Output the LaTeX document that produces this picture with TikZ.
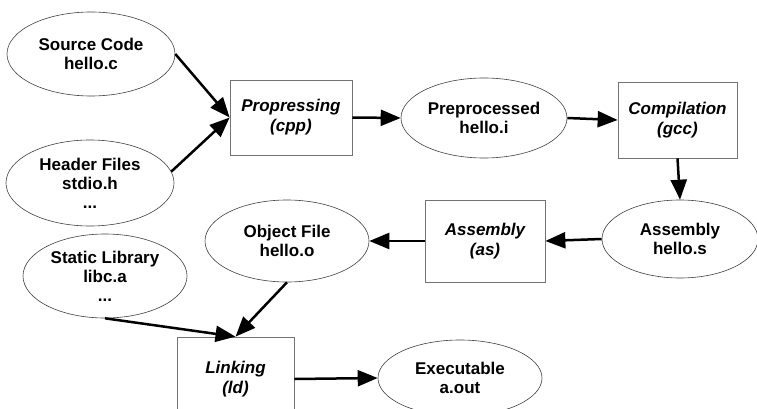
\documentclass[tikz,border=0pt]{standalone}
\usepackage{fontspec}
\setmainfont{Liberation Sans}
\usetikzlibrary{shapes.geometric,arrows.meta}
\begin{document}
\begin{tikzpicture}[x=1pt,y=-1pt,
	file/.style={ellipse,draw=black!75,line width=0.6pt,inner sep=0pt,align=center,font=\fontsize{17}{19}\selectfont\bfseries},
	tool/.style={rectangle,draw=black!55,line width=0.7pt,inner sep=0pt,align=center,font=\fontsize{17}{20}\selectfont\bfseries\itshape},
	arr/.style={line width=2.5pt,-{Triangle[length=20pt,width=16pt]}}]
				\useasboundingbox (0,0) rectangle (757,409);
				\clip (0,0) rectangle (757,409);
				
				%inputs
				\node (src) at (91, 54) [file,minimum width=168,minimum height=84]{Source Code\\hello.c};
				\node (hdr) at (90, 183) [file,minimum width=168,minimum height=86]{Header Files\\stdio.h\\...};
				\node (lib) at (105, 276) [file,minimum width=164,minimum height=84]{Static Library\\libc.a\\...};
				
				%steps
				\node (cpp) at (291, 117.5) [tool,minimum width=122,minimum height=75]{Propressing\\(cpp)};
				\node (gcc) at (677.5, 120) [tool,minimum width=119,minimum height=76]{Compilation\\(gcc)};
				\node (as) at (485, 241) [tool,minimum width=120,minimum height=82]{Assembly\\(as)};
				\node (ld) at (235.5, 379) [tool,minimum width=117,minimum height=84]{Linking\\(ld)};
				
				%files in between
				\node (pre) at (484, 118) [file,minimum width=166,minimum height=80]{Preprocessed\\hello.i};
				\node (asms) at (680, 239) [file,minimum width=156,minimum height=78]{Assembly\\hello.s};
				\node (obj) at (287, 241) [file,minimum width=164,minimum height=82]{Object File\\hello.o};
				\node (exe) at (460, 378) [file,minimum width=164,minimum height=76]{Executable\\a.out};
				
				\draw[arr] (src.east) -- (cpp.west);
				\draw[arr] (hdr.8) -- (cpp.west);
				\foreach \a/\b in {cpp.east/pre.west, pre.east/gcc.west, gcc.south/asms.north, asms.west/as.east, as.west/obj.east, obj.south/ld.north, lib.south/ld.north, ld.east/exe.west}{
					\draw[arr] (\a) -- (\b);
				}
			\end{tikzpicture}
\end{document}
